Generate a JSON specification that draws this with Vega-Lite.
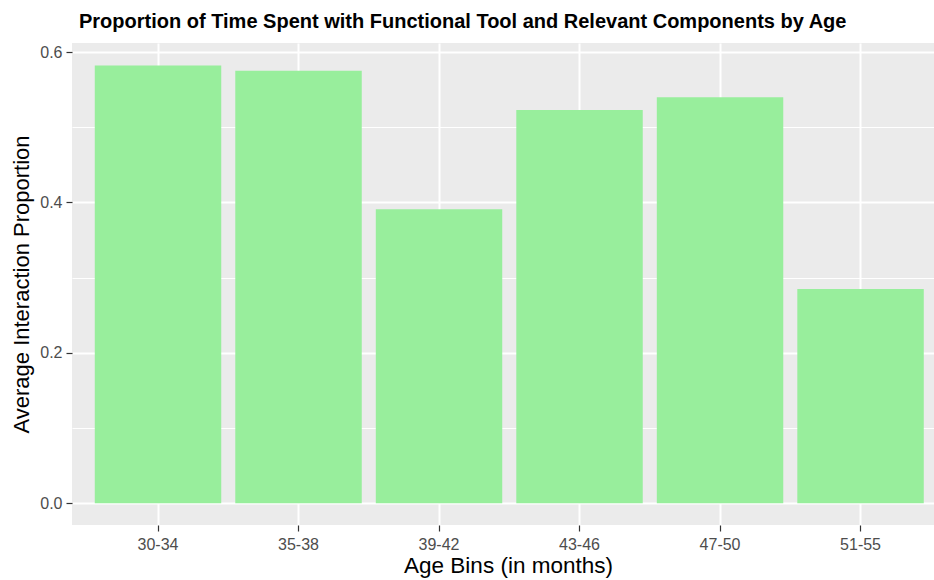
{
  "$schema": "https://vega.github.io/schema/vega-lite/v6.json",
  "width": 862,
  "height": 482,
  "autosize": {"type": "none"},
  "padding": {"left": 72, "top": 43, "right": 0, "bottom": 55},
  "background": "white",
  "title": {
    "text": "Proportion of Time Spent with Functional Tool and Relevant Components by Age",
    "font": "Liberation Sans",
    "fontSize": 20,
    "fontWeight": "bold",
    "color": "black",
    "anchor": "start",
    "frame": "group",
    "offset": 11,
    "dx": 7
  },
  "config": {
    "view": {"fill": "#EBEBEB", "stroke": null},
    "axis": {"labelFont": "Liberation Sans", "titleFont": "Liberation Sans"}
  },
  "data": {
    "values": [
      {"age": "30-34", "prop": 0.582},
      {"age": "35-38", "prop": 0.575},
      {"age": "39-42", "prop": 0.391},
      {"age": "43-46", "prop": 0.523},
      {"age": "47-50", "prop": 0.540},
      {"age": "51-55", "prop": 0.285}
    ]
  },
  "mark": {"type": "bar", "color": "#98EE9C"},
  "encoding": {
    "x": {
      "field": "age",
      "type": "nominal",
      "sort": null,
      "scale": {"paddingInner": 0.1, "paddingOuter": 0.1175, "align": 0.69},
      "axis": {
        "title": "Age Bins (in months)",
        "titleFontSize": 22.5,
        "titleFontWeight": "normal",
        "titleColor": "black",
        "titlePadding": 2,
        "titleX": 436,
        "titleAlign": "center",
        "titleAnchor": null,
        "labelAngle": 0,
        "labelFontSize": 16,
        "labelColor": "#4D4D4D",
        "labelPadding": 5,
        "domain": false,
        "ticks": true,
        "tickColor": "#333333",
        "tickSize": 6,
        "tickWidth": 1.2,
        "bandPosition": 0.5,
        "grid": true,
        "gridColor": "white",
        "gridWidth": 2
      }
    },
    "y": {
      "field": "prop",
      "type": "quantitative",
      "scale": {"domain": [-0.029, 0.612], "nice": false, "zero": false},
      "axis": {
        "title": "Average Interaction Proportion",
        "titleFontSize": 22,
        "titleFontWeight": "normal",
        "titleColor": "black",
        "titlePadding": 6,
        "values": [0, 0.1, 0.2, 0.3, 0.4, 0.5, 0.6],
        "labelExpr": "round(datum.value*10) % 2 == 0 ? format(datum.value, '.1f') : ''",
        "labelFontSize": 16,
        "labelColor": "#4D4D4D",
        "labelPadding": 4,
        "domain": false,
        "tickColor": "#333333",
        "tickSize": 6,
        "tickWidth": 1.2,
        "tickOpacity": {"condition": {"test": "round(datum.value*10) % 2 == 0", "value": 1}, "value": 0},
        "grid": true,
        "gridColor": "white",
        "gridWidth": {"condition": {"test": "round(datum.value*10) % 2 == 0", "value": 2}, "value": 1}
      }
    }
  }
}
